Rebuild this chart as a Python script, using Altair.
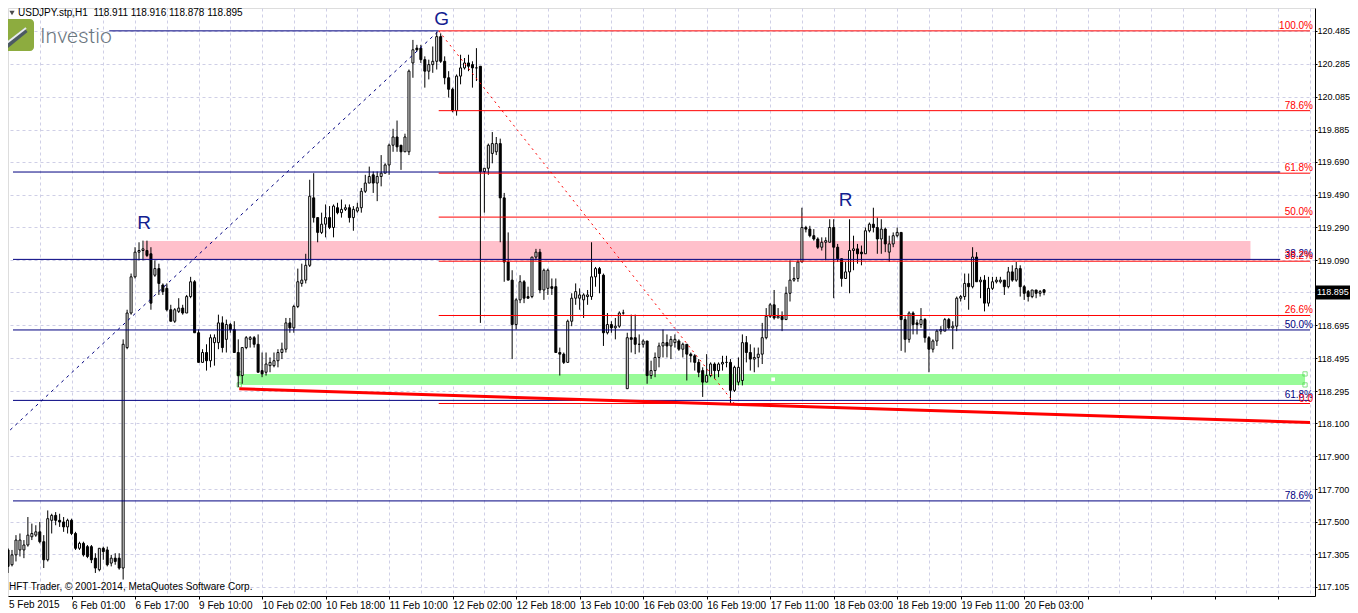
import json
import altair as alt
import pandas as pd

# ---------------- data (USDJPY H1) ----------------
OPEN = [117.33,117.24,117.30,117.33,117.33,117.36,117.41,117.42,117.44,117.38,
        117.27,117.51,117.54,117.51,117.50,117.47,117.51,117.43,117.34,117.37,
        117.35,117.35,117.28,117.21,117.34,117.33,117.25,117.28,117.28,117.22,
        118.56,118.77,118.99,119.14,119.15,119.15,119.13,119.00,119.04,118.94,
        118.92,118.79,118.72,118.78,118.80,118.77,118.87,118.96,118.65,118.47,
        118.53,118.48,118.59,118.59,118.71,118.61,118.70,118.67,118.53,118.39,
        118.56,118.61,118.62,118.58,118.42,118.41,118.45,118.45,118.48,118.53,
        118.55,118.71,118.68,118.81,118.95,118.97,119.06,119.47,119.35,119.26,
        119.31,119.35,119.29,119.41,119.38,119.40,119.41,119.35,119.39,119.41,
        119.51,119.56,119.61,119.56,119.60,119.62,119.67,119.79,119.84,119.79,
        119.75,119.75,120.29,120.38,120.38,120.31,120.24,120.28,120.30,120.45,
        120.30,120.20,120.13,120.00,120.21,120.26,120.29,120.28,120.26,120.27,
        119.63,119.65,119.74,119.75,119.80,119.47,119.08,118.97,118.70,118.85,
        118.96,118.87,118.87,119.11,119.14,118.91,118.92,118.93,118.93,118.53,
        118.52,118.47,118.72,118.86,118.86,118.85,118.87,118.87,118.99,119.04,
        119.00,118.65,118.70,118.68,118.69,118.77,118.31,118.62,118.62,118.58,
        118.58,118.60,118.39,118.42,118.50,118.57,118.59,118.57,118.59,118.60,
        118.55,118.58,118.52,118.51,118.47,118.42,118.35,118.39,118.46,118.42,
        118.46,118.47,118.47,118.30,118.35,118.36,118.59,118.53,118.49,118.50,
        118.52,118.62,118.75,118.82,118.74,118.75,118.73,118.89,118.97,118.98,
        119.08,119.29,119.28,119.24,119.22,119.17,119.20,119.20,119.29,119.17,
        119.10,118.98,119.02,119.15,119.16,119.14,119.13,119.27,119.31,119.29,
        119.22,119.28,119.14,119.19,119.24,119.26,118.73,118.61,118.77,118.71,
        118.70,118.73,118.62,118.55,118.60,118.66,118.66,118.73,118.68,118.69,
        118.86,118.87,118.95,118.93,119.11,118.96,118.97,118.83,118.92,118.96,
        118.96,118.97,118.93,119.02,118.97,119.04,118.93,118.90,118.87,118.91,
        118.89,118.911]

HIGH = [117.34,117.33,117.42,117.43,117.39,117.53,117.49,117.48,117.50,117.42,
        117.57,117.55,117.56,117.55,117.53,117.52,117.52,117.44,117.38,117.38,
        117.36,117.36,117.31,117.34,117.35,117.35,117.30,117.31,117.31,118.61,
        118.79,119.01,119.17,119.20,119.21,119.21,119.17,119.09,119.07,118.95,
        118.95,118.82,118.80,118.86,118.82,118.88,118.99,118.97,118.67,118.55,
        118.58,118.64,118.64,118.76,118.75,118.73,118.71,118.72,118.61,118.56,
        118.63,118.63,118.63,118.64,118.53,118.53,118.50,118.53,118.55,118.59,
        118.74,118.74,118.82,119.04,119.07,119.13,119.58,119.62,119.35,119.38,
        119.43,119.42,119.43,119.44,119.46,119.43,119.43,119.42,119.44,119.53,
        119.61,119.66,119.63,119.63,119.73,119.68,119.80,119.89,119.94,119.79,
        119.86,120.25,120.43,120.40,120.40,120.33,120.31,120.39,120.48,120.47,
        120.33,120.24,120.14,120.22,120.34,120.32,120.34,120.30,120.38,120.27,
        119.65,119.80,119.87,119.84,119.83,119.50,119.26,119.03,118.86,119.00,
        118.97,118.93,119.11,119.16,119.16,119.04,119.04,118.98,118.98,118.56,
        118.53,118.73,118.89,118.95,118.92,118.89,118.91,119.20,119.05,119.05,
        119.01,118.77,118.72,118.74,118.78,118.79,118.65,118.76,118.76,118.64,
        118.61,118.60,118.48,118.53,118.59,118.67,118.64,118.63,118.64,118.61,
        118.59,118.58,118.53,118.52,118.49,118.44,118.52,118.47,118.47,118.47,
        118.51,118.51,118.49,118.45,118.50,118.64,118.63,118.58,118.56,118.56,
        118.71,118.80,118.83,118.91,118.80,118.78,118.93,119.09,119.05,119.09,
        119.41,119.30,119.30,119.28,119.23,119.23,119.23,119.34,119.34,119.19,
        119.10,119.08,119.34,119.24,119.19,119.18,119.29,119.32,119.41,119.35,
        119.34,119.29,119.24,119.26,119.29,119.26,118.75,118.78,118.78,118.73,
        118.80,118.74,118.63,118.61,118.67,118.69,118.74,118.74,118.72,118.87,
        118.88,119.01,119.01,119.17,119.14,118.99,119.00,118.99,118.99,118.99,
        118.99,118.97,119.05,119.06,119.08,119.06,118.94,118.91,118.91,118.91,
        118.91,118.916]

LOW = [117.19,117.23,117.26,117.29,117.28,117.35,117.39,117.41,117.37,117.22,
       117.26,117.43,117.48,117.47,117.44,117.43,117.42,117.33,117.33,117.29,
       117.28,117.25,117.19,117.20,117.27,117.23,117.23,117.24,117.21,117.15,
       118.55,118.76,118.98,119.09,119.09,119.11,118.79,118.99,118.88,118.88,
       118.78,118.72,118.71,118.77,118.76,118.77,118.86,118.65,118.47,118.47,
       118.42,118.44,118.45,118.55,118.53,118.53,118.65,118.53,118.32,118.34,
       118.55,118.56,118.56,118.41,118.38,118.39,118.41,118.44,118.44,118.49,
       118.53,118.65,118.65,118.80,118.93,118.95,119.05,119.32,119.20,119.25,
       119.23,119.28,119.23,119.37,119.35,119.39,119.32,119.27,119.38,119.38,
       119.50,119.56,119.50,119.45,119.54,119.62,119.61,119.75,119.75,119.64,
       119.75,119.73,120.20,120.36,120.29,120.14,120.19,120.23,120.25,120.29,
       120.16,120.08,119.99,119.97,120.16,120.25,120.24,120.14,120.18,118.71,
       119.38,119.61,119.68,119.73,119.20,118.96,118.97,118.49,118.67,118.83,
       118.83,118.86,118.86,119.09,118.89,118.85,118.88,118.88,118.53,118.39,
       118.46,118.47,118.69,118.82,118.79,118.74,118.82,118.85,118.93,118.89,
       118.57,118.64,118.65,118.61,118.68,118.76,118.31,118.53,118.52,118.53,
       118.56,118.34,118.37,118.38,118.44,118.50,118.50,118.49,118.56,118.54,
       118.50,118.36,118.47,118.42,118.38,118.26,118.35,118.38,118.37,118.38,
       118.42,118.44,118.22,118.29,118.33,118.33,118.47,118.42,118.41,118.44,
       118.46,118.61,118.74,118.73,118.74,118.66,118.73,118.84,118.96,118.96,
       119.08,119.26,119.23,119.21,119.16,119.15,119.09,119.20,118.86,119.08,
       118.93,118.98,118.89,119.03,119.07,119.06,119.13,119.26,119.26,119.13,
       119.13,119.14,119.08,119.17,119.23,118.54,118.53,118.59,118.64,118.64,
       118.68,118.59,118.41,118.53,118.57,118.64,118.66,118.67,118.55,118.66,
       118.84,118.85,118.79,118.92,118.96,118.86,118.78,118.81,118.91,118.95,
       118.95,118.88,118.92,118.96,118.96,118.87,118.85,118.84,118.86,118.86,
       118.87,118.878]

CLOSE = [117.23,117.30,117.39,117.39,117.36,117.42,117.43,117.44,117.38,117.27,
         117.52,117.54,117.51,117.50,117.47,117.51,117.43,117.34,117.37,117.30,
         117.29,117.27,117.22,117.34,117.32,117.24,117.28,117.26,117.22,118.58,
         118.77,118.99,119.14,119.15,119.16,119.12,118.83,119.04,118.95,118.90,
         118.79,118.72,118.79,118.80,118.77,118.87,118.96,118.65,118.47,118.53,
         118.48,118.62,118.62,118.71,118.56,118.70,118.67,118.53,118.39,118.56,
         118.62,118.62,118.58,118.41,118.40,118.46,118.47,118.48,118.53,118.55,
         118.71,118.68,118.81,118.96,118.97,119.06,119.48,119.35,119.26,119.31,
         119.35,119.29,119.42,119.38,119.40,119.41,119.35,119.40,119.41,119.51,
         119.56,119.60,119.56,119.60,119.62,119.67,119.79,119.84,119.78,119.75,
         119.84,120.24,120.37,120.37,120.31,120.24,120.28,120.30,120.45,120.30,
         120.20,120.13,120.00,120.21,120.26,120.29,120.27,120.26,120.26,119.63,
         119.65,119.79,119.80,119.80,119.47,119.08,118.97,118.70,118.85,118.96,
         118.86,118.86,119.11,119.14,118.91,119.03,119.03,118.92,118.53,118.52,
         118.47,118.72,118.86,118.90,118.88,118.88,118.88,118.99,119.04,119.01,
         118.65,118.70,118.68,118.69,118.77,118.77,118.62,118.61,118.58,118.58,
         118.60,118.39,118.42,118.50,118.57,118.59,118.57,118.61,118.61,118.55,
         118.58,118.52,118.51,118.47,118.41,118.35,118.39,118.46,118.42,118.46,
         118.47,118.47,118.30,118.44,118.44,118.59,118.53,118.49,118.50,118.52,
         118.62,118.75,118.82,118.74,118.75,118.73,118.89,118.97,118.98,119.08,
         119.29,119.28,119.24,119.22,119.17,119.20,119.21,119.29,119.17,119.10,
         118.98,119.02,119.15,119.16,119.13,119.13,119.27,119.31,119.29,119.22,
         119.28,119.19,119.19,119.24,119.26,118.73,118.61,118.77,118.70,118.70,
         118.73,118.62,118.55,118.60,118.66,118.67,118.73,118.68,118.69,118.86,
         118.87,118.95,118.93,119.11,118.96,118.97,118.83,118.92,118.96,118.97,
         118.97,118.93,119.02,118.97,119.04,118.93,118.89,118.87,118.91,118.89,
         118.90,118.895]

PRICE_TICKS = [120.485, 120.285, 120.085, 119.885, 119.690, 119.490, 119.290,
               119.090, 118.895, 118.695, 118.495, 118.295, 118.100, 117.900,
               117.700, 117.500, 117.305, 117.105]
TIME_LABELS = ["5 Feb 2015", "6 Feb 01:00", "6 Feb 17:00", "9 Feb 10:00",
               "10 Feb 02:00", "10 Feb 18:00", "11 Feb 10:00", "12 Feb 02:00",
               "12 Feb 18:00", "13 Feb 10:00", "16 Feb 03:00", "16 Feb 19:00",
               "17 Feb 11:00", "18 Feb 03:00", "18 Feb 19:00", "19 Feb 11:00",
               "20 Feb 03:00"]

# Fibonacci grids
RED_LEVELS = [120.485, 120.000, 119.620, 119.353, 119.085, 118.755, 118.220]
RED_LABELS = ["100.0%", "78.6%", "61.8%", "50.0%", "38.2%", "26.6%", "0.0"]
NAVY_LEVELS = [119.627, 119.096, 118.667, 118.239, 117.628]
NAVY_LEVEL_END = [320.5, 320.5, 328, 328, 328]
NAVY_LABEL_LEVELS = [119.096, 118.667, 118.239, 117.628]
NAVY_LABELS = ["38.2%", "50.0%", "61.8%", "78.6%"]

# zones (bar from/to, price from/to)
ZONE_BARS = [[34.25, 313.0], [58.25, 326.75]]
ZONE_PRICES = [[119.093, 119.208], [118.333, 118.400]]
ZONE_COLORS = ["#ffc0cb", "#98fb98"]

# trend / fib lines (bar, price)
TREND_BARS = [58.25, 328.0]
TREND_PRICES = [118.31, 118.105]
RED_DIAG_BARS = [108.5, 183.0]
RED_DIAG_PRICES = [120.485, 118.22]
NAVY_DIAG_BARS = [-0.75, 108.5]
NAVY_DIAG_PRICES = [118.03, 120.485]
NAVY_TOP_BARS = [25.5, 108.5]
NAVY_TOP_PRICE = 120.485

MARK_TEXT = ["R", "G", "R"]
MARK_BARS = [34.25, 109.25, 211.0]
MARK_PRICES = [119.32, 120.56, 119.457]

FONT = "Liberation Sans"
NAVY = "#000080"
RED = "#ff0000"
GRID = "#cfcfe6"

W, H = 1307, 588
xs = alt.Scale(domain=[1.25, 328.0], nice=False, zero=False)
ys = alt.Scale(domain=[117.050, 120.624], nice=False, zero=False)

candles = pd.DataFrame({"bar": list(range(len(OPEN))), "open": OPEN,
                        "high": HIGH, "low": LOW, "close": CLOSE})

lbl_arr = json.dumps(TIME_LABELS)
x_axis = alt.Axis(
    values=list(range(8, 329, 8)), grid=True, gridDash=[3, 3], gridColor=GRID,
    labelExpr=f"datum.value % 16 === 0 ? {lbl_arr}[datum.value / 16] : ''",
    labelAlign="left", labelBaseline="top", labelFont=FONT, labelFontSize=10,
    labelColor="black", labelPadding=1, tickSize=3, labelOverlap=False,
    labelFlush=False, domainColor="black",
    tickColor={"condition": {"test": "datum.value % 16 === 0", "value": "black"},
               "value": "transparent"},
    title=None)
y_axis = alt.Axis(
    orient="right", values=PRICE_TICKS, labelExpr="format(datum.value, '.3f')",
    grid=True, gridDash=[3, 3], gridColor=GRID, labelFont=FONT, labelFontSize=9,
    labelColor="black", labelPadding=0, tickSize=2, tickColor="black",
    domainColor="black", labelOverlap=False, labelFlush=False, title=None)


def X(field):
    return alt.X(field, scale=xs, axis=x_axis)


def Y(field):
    return alt.Y(field, scale=ys, axis=y_axis)


# zones
zones = pd.DataFrame({"b0": [z[0] for z in ZONE_BARS], "b1": [z[1] for z in ZONE_BARS],
                      "p0": [z[0] for z in ZONE_PRICES], "p1": [z[1] for z in ZONE_PRICES],
                      "c": ZONE_COLORS})
zone_layer = alt.Chart(zones).mark_rect().encode(
    x=X("b0:Q"), x2="b1:Q", y=Y("p0:Q"), y2="p1:Q",
    color=alt.Color("c:N", scale=None))

handles = pd.DataFrame({"bar": [ZONE_BARS[1][0], ZONE_BARS[1][0], ZONE_BARS[1][1], ZONE_BARS[1][1]],
                        "p": [ZONE_PRICES[1][0], ZONE_PRICES[1][1], ZONE_PRICES[1][0], ZONE_PRICES[1][1]]})
handle_layer = alt.Chart(handles).mark_square(size=18, filled=False, color="#55d455", strokeWidth=1).encode(
    x=X("bar:Q"), y=Y("p:Q"))

dot = pd.DataFrame({"bar": [192.75], "p": [118.367]})
dot_layer = alt.Chart(dot).mark_square(size=14, color="white", opacity=1).encode(
    x=X("bar:Q"), y=Y("p:Q"))

# candles
wicks = alt.Chart(candles).mark_rule(color="black", strokeWidth=1, clip=True).encode(
    x=X("bar:Q"), y=Y("low:Q"), y2="high:Q")
bodies = alt.Chart(candles).mark_bar(width=2, stroke="black", strokeWidth=1, clip=True).encode(
    x=X("bar:Q"), y=Y("open:Q"), y2="close:Q",
    fill=alt.condition("datum.close >= datum.open", alt.value("white"), alt.value("black")))

# horizontal fib lines
hl = pd.DataFrame(
    {"b0": [NAVY_TOP_BARS[0]] + [1.25] * len(NAVY_LEVELS) + [RED_DIAG_BARS[0]] * len(RED_LEVELS),
     "b1": [NAVY_TOP_BARS[1]] + NAVY_LEVEL_END + [328.0] * len(RED_LEVELS),
     "p": [NAVY_TOP_PRICE] + NAVY_LEVELS + RED_LEVELS,
     "c": [NAVY] * (1 + len(NAVY_LEVELS)) + [RED] * len(RED_LEVELS)})
hline_layer = alt.Chart(hl).mark_rule(strokeWidth=1).encode(
    x=X("b0:Q"), x2="b1:Q", y=Y("p:Q"), color=alt.Color("c:N", scale=None))


def seg(bars, prices, color, width, dash=None):
    df = pd.DataFrame({"bar": bars, "p": prices})
    kw = dict(color=color, strokeWidth=width, clip=True)
    if dash:
        kw["strokeDash"] = dash
    return alt.Chart(df).mark_line(**kw).encode(x=X("bar:Q"), y=Y("p:Q"))


navy_diag = seg(NAVY_DIAG_BARS, NAVY_DIAG_PRICES, NAVY, 1, [3, 4])
red_diag = seg(RED_DIAG_BARS, RED_DIAG_PRICES, RED, 1, [2, 4])
trend = seg(TREND_BARS, TREND_PRICES, RED, 3)

# fib labels
navy_lbl = alt.Chart(pd.DataFrame({"p": NAVY_LABEL_LEVELS, "t": NAVY_LABELS})).mark_text(
    align="right", baseline="alphabetic", dy=-2, font=FONT, fontSize=10, color=NAVY).encode(
    x=alt.value(1305), y=Y("p:Q"), text="t:N")
red_lbl = alt.Chart(pd.DataFrame({"p": RED_LEVELS, "t": RED_LABELS})).mark_text(
    align="right", baseline="alphabetic", dy=-2, font=FONT, fontSize=10, color=RED).encode(
    x=alt.value(1305), y=Y("p:Q"), text="t:N")

marks = alt.Chart(pd.DataFrame({"bar": MARK_BARS, "p": MARK_PRICES, "t": MARK_TEXT})).mark_text(
    align="center", baseline="middle", font="Liberation Sans", fontSize=19, color="#12208f").encode(
    x=X("bar:Q"), y=Y("p:Q"), text="t:N")

# current price box
last = pd.DataFrame({"p": [CLOSE[-1]], "t": [f"{CLOSE[-1]:.3f}"]})
price_box = alt.Chart(last).transform_calculate(
    top="datum.p + 0.043", bot="datum.p - 0.043").mark_rect(color="black").encode(
    x=alt.value(1308), x2=alt.value(1342), y=Y("top:Q"), y2="bot:Q")
price_txt = alt.Chart(last).mark_text(align="left", baseline="middle", font=FONT, fontSize=9,
                                      color="white").encode(
    x=alt.value(1309), y=Y("p:Q"), text="t:N")

# header / footer texts
one = pd.DataFrame({"a": [0]})
title_tri = alt.Chart(one).mark_point(shape="triangle-down", filled=True, color="black", size=28).encode(
    x=alt.value(4), y=alt.value(5))
title_txt = alt.Chart(one).mark_text(align="left", baseline="middle", font=FONT, fontSize=10,
                                     color="black").encode(
    x=alt.value(10), y=alt.value(5),
    text=alt.value("USDJPY.stp,H1\u00a0 118.911 118.916 118.878 118.895"))
first_lbl = alt.Chart(one).mark_text(align="left", baseline="top", font=FONT, fontSize=10,
                                     color="black").encode(
    x=alt.value(1), y=alt.value(H + 4), text=alt.value(TIME_LABELS[0]))
footer = alt.Chart(one).mark_text(align="left", baseline="middle", font=FONT, fontSize=10,
                                  color="black").encode(
    x=alt.value(1), y=alt.value(H - 9),
    text=alt.value("HFT Trader, \u00a9 2001-2014, MetaQuotes Software Corp."))

# logo
logo_box = alt.Chart(one).mark_rect(color="#8dac3f", cornerRadius=4).encode(
    x=alt.value(-5), x2=alt.value(26), y=alt.value(11), y2=alt.value(43))
logo_s1 = alt.Chart(one).mark_rule(color="#4c5a63", strokeWidth=5).encode(
    x=alt.value(-4), x2=alt.value(18), y=alt.value(40), y2=alt.value(22))
logo_s2 = alt.Chart(one).mark_rule(color="#e8ecef", strokeWidth=2).encode(
    x=alt.value(-4), x2=alt.value(18), y=alt.value(37), y2=alt.value(20))
logo_txt = alt.Chart(one).mark_text(align="left", baseline="alphabetic", font="Roboto",
                                    fontWeight=300, fontSize=21, color="#6a767f").encode(
    x=alt.value(32), y=alt.value(35), text=alt.value("Investio"))

chart = alt.layer(
    zone_layer, handle_layer, dot_layer, wicks, bodies, hline_layer,
    navy_diag, red_diag, trend, navy_lbl, red_lbl, marks, price_box, price_txt,
    title_tri, title_txt, first_lbl, footer, logo_box, logo_s1, logo_s2, logo_txt
).properties(
    width=W, height=H, autosize="none",
    padding={"left": 0, "top": 0, "right": 35, "bottom": 17}
).configure_view(stroke="black", strokeWidth=1).configure(background="white")

chart.save("out.html", embed_options={"renderer": "svg", "actions": False})
